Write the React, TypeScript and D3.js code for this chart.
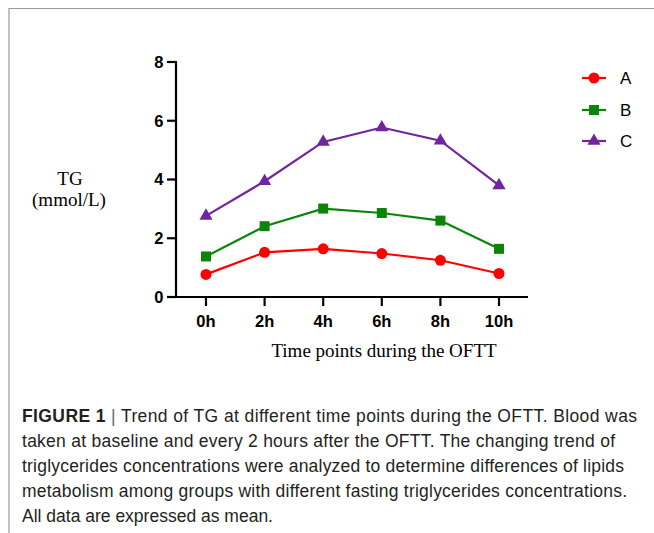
import { line, scaleLinear, scalePoint, symbol, symbolCircle, symbolSquare, symbolTriangle } from "d3";

const timePoints = ["0h", "2h", "4h", "6h", "8h", "10h"];
const yTicks = [0, 2, 4, 6, 8];

const groupA = [0.77, 1.52, 1.64, 1.48, 1.25, 0.8];
const groupB = [1.38, 2.41, 3.01, 2.86, 2.6, 1.64];
const groupC = [2.76, 3.94, 5.28, 5.77, 5.32, 3.8];

const seriesNames = ["A", "B", "C"];
const seriesColors = ["#ff0000", "#0a850a", "#7024a0"];

const captionLines = [
  "Trend of TG at different time points during the OFTT. Blood was",
  "taken at baseline and every 2 hours after the OFTT. The changing trend of",
  "triglycerides concentrations were analyzed to determine differences of lipids",
  "metabolism among groups with different fasting triglycerides concentrations.",
  "All data are expressed as mean.",
];
// measured line widths in the figure (last line left natural)
const captionWidths = [615, 593, 602, 605];

const W = 654;
const H = 533;

export default function App() {
  const x = scalePoint<string>().domain(timePoints).range([206, 499]);
  const y = scaleLinear().domain([0, 8]).range([297, 62]);
  const axisLeft = 176;
  const axisRight = 528;

  const series = [groupA, groupB, groupC];
  const shapes = [
    symbol(symbolCircle, 95)(),
    symbol(symbolSquare, 100)(),
    symbol(symbolTriangle, 75)(),
  ];
  const path = line<number>()
    .x((_, i) => x(timePoints[i]) as number)
    .y((d) => y(d));

  const legendY = [78, 110, 141];
  const sans = "'Liberation Sans', Arial, sans-serif";
  const serif = "'Liberation Serif', 'Times New Roman', serif";

  return (
    <div style={{ position: "absolute", left: 0, top: 0 }}>
      <svg width={W} height={H} style={{ display: "block", background: "#fff" }}>
        {/* frame */}
        <line x1={9} y1={8.5} x2={W} y2={8.5} stroke="#9a9a9a" strokeWidth={1.2} />
        <line x1={9} y1={8} x2={9} y2={H} stroke="#9a9a9a" strokeWidth={1.2} />

        {/* axes */}
        <g stroke="#000" strokeWidth={2.2} fill="none">
          <line x1={axisLeft} y1={y(8) - 1} x2={axisLeft} y2={y(0) + 1} />
          <line x1={axisLeft - 1} y1={y(0)} x2={axisRight} y2={y(0)} />
          {yTicks.map((t) => (
            <line key={t} x1={axisLeft - 9} x2={axisLeft} y1={y(t)} y2={y(t)} />
          ))}
          {timePoints.map((t) => (
            <line key={t} x1={x(t)} x2={x(t)} y1={y(0)} y2={y(0) + 9} />
          ))}
        </g>
        <g fontFamily={sans} fontWeight="bold" fontSize={16.5} fill="#000">
          {yTicks.map((t) => (
            <text key={t} x={163.5} y={y(t)} dy="0.36em" textAnchor="end">
              {t}
            </text>
          ))}
          {timePoints.map((t) => (
            <text key={t} x={x(t)} y={327} textAnchor="middle">
              {t}
            </text>
          ))}
        </g>

        {/* axis titles */}
        <g fontFamily={serif} fontSize={19} fill="#000" textAnchor="middle">
          <text x={70} y={185}>TG</text>
          <text x={69} y={206}>(mmol/L)</text>
          <text x={384} y={357}>Time points during the OFTT</text>
        </g>

        {/* series */}
        {series.map((vals, si) => (
          <g key={si}>
            <path d={path(vals) ?? ""} fill="none" stroke={seriesColors[si]} strokeWidth={2.2} />
            {vals.map((v, i) => (
              <path
                key={i}
                d={shapes[si] ?? ""}
                transform={`translate(${x(timePoints[i])},${y(v)})`}
                fill={seriesColors[si]}
              />
            ))}
          </g>
        ))}

        {/* legend */}
        {seriesNames.map((n, si) => (
          <g key={n}>
            <line x1={582} x2={606} y1={legendY[si]} y2={legendY[si]} stroke={seriesColors[si]} strokeWidth={2.2} />
            <path d={shapes[si] ?? ""} transform={`translate(594,${legendY[si]})`} fill={seriesColors[si]} />
            <text x={620} y={legendY[si]} dy="0.36em" fontFamily={sans} fontSize={17} fill="#000">
              {n}
            </text>
          </g>
        ))}

        {/* caption */}
        <g fontFamily={sans} fontSize={17.5} fill="#231f20">
          <text x={22} y={422} textLength={captionWidths[0]} lengthAdjust="spacing">
            <tspan fontWeight="bold">FIGURE 1</tspan>
            <tspan fill="#666"> | </tspan>
            <tspan>{captionLines[0]}</tspan>
          </text>
          {captionLines.slice(1).map((l, i) => (
            <text
              key={i}
              x={22}
              y={447 + i * 25}
              textLength={captionWidths[i + 1]}
              lengthAdjust="spacing"
            >
              {l}
            </text>
          ))}
        </g>
      </svg>
    </div>
  );
}
